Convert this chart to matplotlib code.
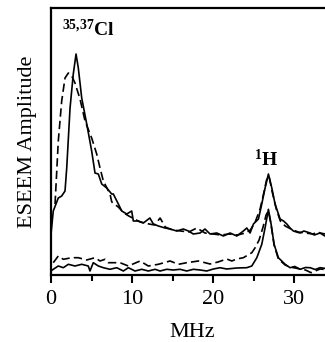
import numpy as np
import matplotlib
matplotlib.use("Agg")
import matplotlib.pyplot as plt
from matplotlib.ticker import MultipleLocator

plt.rcParams['font.family'] = ['Liberation Serif', 'DejaVu Serif']
plt.rcParams['mathtext.fontset'] = 'custom'
plt.rcParams['mathtext.rm'] = 'Liberation Serif'
plt.rcParams['mathtext.bf'] = 'Liberation Serif:bold'

# upper pair of traces (MHz, arbitrary amplitude)
upper_solid_x = [0.0, 0.28, 0.9, 1.32, 1.73, 1.94, 2.35, 2.75, 3.09, 3.37, 3.79, 4.41,
                 5.02, 5.43, 5.84, 6.26, 6.88, 7.49, 7.69, 8.31, 8.73, 9.35, 9.96, 10.16,
                 10.78, 11.4, 12.2, 12.63, 13.25, 14.07, 14.69, 15.52, 16.33, 16.95, 17.57,
                 18.4, 19.0, 19.63, 20.46, 21.27, 22.1, 22.93, 23.74, 24.16, 24.57, 24.98,
                 25.6, 26.01, 26.42, 26.83, 27.25, 27.65, 28.27, 28.7, 29.1, 29.5, 29.91,
                 30.3, 30.74, 31.2, 31.98, 32.5, 33.2, 33.83, 34.8]
upper_solid_y = [41, 64, 77, 79, 84, 107, 167, 201, 221, 207, 177, 151,
                 124, 102, 101, 91, 87, 81, 81, 71, 64, 61, 64, 54,
                 54, 52, 57, 51, 49, 47, 46, 44, 46, 44, 41,
                 42, 46, 41, 42, 39, 42, 39, 44, 47, 42, 51,
                 56, 71, 87, 101, 87, 71, 56, 54, 51, 47, 44,
                 43, 42, 44, 42, 40, 42, 41, 42]

upper_dash_x = [0.5, 0.9, 1.32, 1.73, 2.14, 2.56, 2.96, 3.58, 4.2, 5.02, 5.64, 6.05,
                6.46, 7.28, 7.5, 8.3, 9.0, 9.6, 10.3, 11.0, 11.6, 12.1, 12.8, 13.46,
                14.1, 15.0, 16.0, 17.0, 18.0, 19.0, 20.0, 21.0, 22.0, 23.0, 24.0,
                24.6, 25.2, 25.8, 26.2, 26.6, 26.9, 27.3, 27.8, 28.3, 28.9, 29.6,
                30.5, 31.4, 32.3, 33.0, 33.8, 34.8]
upper_dash_y = [71, 134, 174, 197, 202, 199, 192, 176, 154, 137, 121, 107,
                94, 81, 73, 68, 62, 59, 56, 53, 52, 51, 50, 57,
                48, 45, 44, 43, 47, 42, 41, 40, 41, 40, 42,
                45, 53, 66, 80, 95, 99, 83, 66, 54, 49, 46,
                43, 42, 41, 43, 39, 41]

# lower pair of traces
lower_solid_x = [0.0, 0.28, 0.9, 1.52, 2.14, 2.96, 3.79, 4.6, 4.81, 5.22, 5.84, 6.46,
                 7.28, 8.11, 8.93, 9.54, 10.37, 11.2, 12.01, 12.84, 13.46, 14.28, 15.1,
                 15.93, 16.75, 17.57, 18.4, 19.22, 20.04, 20.86, 21.69, 22.93, 24.16,
                 24.78, 25.4, 26.01, 26.42, 26.83, 27.16, 27.53, 28.06, 28.89, 29.5,
                 30.1, 30.74, 31.4, 31.98, 32.6, 33.2, 34.4]
lower_solid_y = [4, 5.7, 9, 7.3, 10.7, 9, 10.7, 9, 4, 12.3, 9, 7.3,
                 5.7, 7.3, 4, 7.3, 4, 5.7, 4, 5.7, 4, 5.7, 5,
                 5.7, 4, 5.7, 5, 4, 6, 7.3, 6, 7, 7.3,
                 9, 17.3, 30.7, 47.3, 65.7, 51, 30.7, 17.3, 10.7, 7.3,
                 8.5, 5.7, 7.5, 7.3, 5.5, 7.3, 6]

lower_dash_x = [0.28, 0.9, 1.52, 2.56, 3.37, 4.4, 5.43, 6.05, 6.67, 7.07, 8.52, 9.54,
                10.99, 12.01, 13.25, 14.69, 15.72, 16.75, 18.19, 19.63, 20.6, 21.69,
                22.31, 22.93, 23.74, 24.78, 25.19, 25.68, 26.17, 26.54, 26.83, 27.16,
                27.53, 28.06, 28.89, 29.5, 30.74, 31.4, 32.1, 33.2, 34.4]
lower_dash_y = [12.3, 19, 15.7, 17.3, 17.3, 15, 17.3, 14, 15.7, 12.3, 12.3, 9,
                14, 9, 10.7, 14, 10.7, 12.3, 14, 11, 13, 16,
                14, 16, 17.3, 22.3, 27.3, 35, 48, 60, 64, 50,
                30, 16, 10, 8, 6, 5, 2.3, 6, 5]

xticks = [0, 10, 20, 30]

fig = plt.figure(figsize=(3.25, 3.42), dpi=100)
ax = fig.add_axes([51 / 325, 1 - 275 / 342, 282 / 325, 267 / 342])

lw = 1.2
ax.plot(upper_solid_x, upper_solid_y, color='black', lw=lw)
ax.plot(upper_dash_x, upper_dash_y, color='black', lw=lw, ls=(0, (5, 2.5)))
ax.plot(lower_solid_x, lower_solid_y, color='black', lw=lw)
ax.plot(lower_dash_x, lower_dash_y, color='black', lw=lw, ls=(0, (5, 2.5)))

ax.set_xlim(0, 34.8)
ax.set_ylim(0, 267)
ax.set_xticks(xticks)
ax.xaxis.set_minor_locator(MultipleLocator(5))
ax.tick_params(axis='x', which='major', direction='out', length=6, width=1.5,
               labelsize=16, pad=5)
ax.tick_params(axis='x', which='minor', direction='out', length=4, width=1.5)
ax.set_yticks([])
for side in ['left', 'bottom', 'top', 'right']:
    ax.spines[side].set_linewidth(1.6)

ax.set_xlabel('MHz', fontsize=16, labelpad=10)
ax.set_ylabel('ESEEM Amplitude', fontsize=16, labelpad=10)

ax.text(1.3, 239, r'$\mathbf{^{35{,}37}Cl}$', fontsize=14, ha='left', va='baseline')
ax.text(25.0, 109, r'$\mathbf{^{1}H}$', fontsize=14, ha='left', va='baseline')

fig.savefig('out.png', dpi=100)
